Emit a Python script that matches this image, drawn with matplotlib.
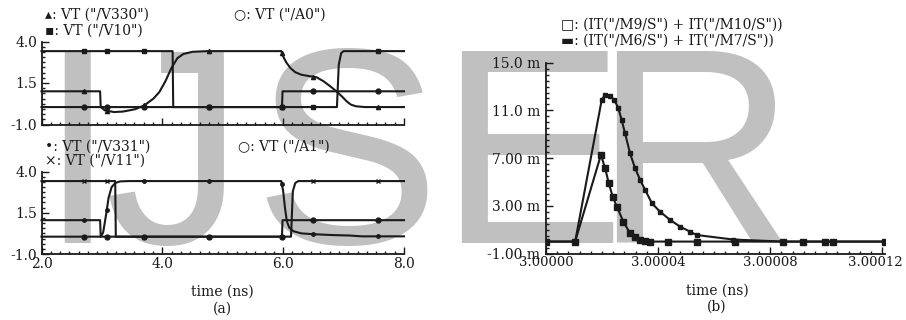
import numpy as np
import matplotlib
matplotlib.use("Agg")
import matplotlib.pyplot as plt
from matplotlib.ticker import FixedLocator, AutoMinorLocator, FixedFormatter
from matplotlib.transforms import ScaledTranslation

# ---------------- panel (a), upper plot: time (ns) / voltage (V) ----------------
t_v330 = [2.0, 2.97, 2.98, 3.05, 3.2, 3.35, 3.55, 3.7, 3.85, 3.95, 4.05, 4.15, 4.25,
          4.35, 4.5, 4.75, 5.97, 6.0, 6.05, 6.12, 6.2, 6.3, 6.42, 6.55, 6.67, 6.78,
          6.88, 6.97, 7.05, 7.12, 7.2, 7.35, 8.0]
v_v330 = [1.0, 1.0, 0.05, -0.15, -0.25, -0.22, -0.08, 0.15, 0.55, 0.95, 1.6, 2.4, 3.0,
          3.25, 3.38, 3.42, 3.42, 3.1, 2.75, 2.4, 2.15, 2.0, 1.92, 1.85, 1.6, 1.3,
          1.0, 0.7, 0.4, 0.2, 0.1, 0.05, 0.05]
t_v10 = [2.0, 4.17, 4.18, 6.89, 6.92, 6.96, 7.0, 8.0]
v_v10 = [3.42, 3.42, 0.05, 0.05, 2.6, 3.3, 3.42, 3.42]
t_a0 = [2.0, 5.98, 5.99, 8.0]
v_a0 = [0.05, 0.05, 1.0, 1.0]

# ---------------- panel (a), lower plot ----------------
t_v331 = [2.0, 2.97, 2.98, 3.02, 3.07, 3.11, 3.16, 3.22, 3.3, 3.45, 5.97, 6.0, 6.03,
          6.06, 6.1, 6.17, 6.3, 6.5, 6.8, 7.1, 7.3, 8.0]
v_v331 = [1.05, 1.05, 0.05, 0.3, 1.4, 2.4, 3.05, 3.3, 3.4, 3.42, 3.42, 2.8, 1.8,
          1.0, 0.6, 0.38, 0.25, 0.2, 0.15, 0.12, 0.07, 0.07]
t_v11 = [2.0, 3.22, 3.23, 6.13, 6.16, 6.2, 6.25, 8.0]
v_v11 = [3.42, 3.42, 0.05, 0.05, 2.8, 3.3, 3.42, 3.42]
t_a1 = [2.0, 5.98, 5.99, 8.0]
v_a1 = [0.05, 0.05, 1.05, 1.05]

# sample instants where the waveform viewer puts its trace symbols
mark_t = [2.7, 3.08, 3.7, 4.77, 5.98, 6.5, 7.57]

# ---------------- panel (b): time offset from 3 ns (x 1e-5 ns) / current (mA) ----------------
dt_m9 = [0.0, 1.04, 1.99, 2.11, 2.29, 2.43, 2.58, 2.70, 2.82, 3.0, 3.18, 3.36, 3.54,
         3.78, 4.07, 4.43, 4.79, 5.14, 5.38, 6.69, 8.46, 9.18, 9.96, 10.25, 12.1]
i_m9 = [0.0, 0.0, 11.9, 12.3, 12.2, 11.9, 11.2, 10.2, 9.1, 7.4, 6.15, 5.17, 4.33,
        3.21, 2.51, 1.81, 1.25, 0.83, 0.55, 0.17, 0.0, 0.0, 0.0, 0.0, 0.0]
dt_m6 = [0.0, 1.04, 1.96, 2.11, 2.24, 2.38, 2.53, 2.76, 3.0, 3.18, 3.36, 3.54, 3.71,
         4.36, 5.39, 6.75, 8.46, 9.18, 9.96, 10.25, 12.1]
i_m6 = [0.0, 0.0, 7.27, 6.15, 4.9, 3.77, 2.93, 1.67, 0.7, 0.35, 0.13, 0.03, 0.0,
        0.0, 0.0, 0.0, 0.0, 0.0, 0.0, 0.0, 0.0]

b_ticks = [3.00000, 3.00004, 3.00008, 3.00012]
b_tick_labels = ["3.00000", "3.00004", "3.00008", "3.00012"]
b_yticks = [15.0, 11.0, 7.0, 3.0, -1.0]
b_ytick_labels = ["15.0 m", "11.0 m", "7.00 m", "3.00 m", "-1.00 m"]
a_yticks = [4.0, 1.5, -1.0]
a_ytick_labels = ["4.0", "1.5", "-1.0"]
a_xticks = [2.0, 4.0, 6.0, 8.0]
a_xtick_labels = ["2.0", "4.0", "6.0", "8.0"]

# background stamp letters and their centres (px)
stamp_letters = ["I", "J", "S", "E", "R"]
stamp_x = [76.5, 174.5, 346.0, 531.5, 693.5]

W, H = 906, 320
INK = "#1a1a1a"
SERIF = ["DejaVu Serif", "DejaVu Sans"]


def fx(px):
    return px / W


def fy(py):
    return 1 - py / H


def axes_px(fig, x0, y_top, x1, y_bot):
    ax = fig.add_axes([fx(x0), fy(y_bot), (x1 - x0) / W, (y_bot - y_top) / H])
    ax.set_facecolor("none")
    for s in ("top", "right"):
        ax.spines[s].set_visible(False)
    for s in ("left", "bottom"):
        ax.spines[s].set_linewidth(1.3)
        ax.spines[s].set_color(INK)
    ax.tick_params(which="both", direction="in", colors=INK, width=1.0,
                   labelsize=10, labelfontfamily="DejaVu Serif")
    ax.tick_params(which="major", length=5)
    ax.tick_params(which="minor", length=2.5)
    return ax


fig = plt.figure(figsize=(W / 100, H / 100), dpi=100)

for ch, cx in zip(stamp_letters, stamp_x):
    fig.text(fx(cx), fy(243), ch, fontsize=201, family="Liberation Sans",
             color="#c0c0c0", ha="center", va="baseline", zorder=-10)


def trace(ax, t, v, marker, ms):
    ax.plot(t, v, color=INK, lw=1.5, zorder=3, clip_on=False)
    ax.plot(mark_t, np.interp(mark_t, t, v), ls="none", marker=marker, ms=ms,
            color=INK, mfc=INK, zorder=4, clip_on=False)


def volt_axes(ax, show_labels):
    ax.set_xlim(2.0, 8.0)
    ax.set_ylim(-1.0, 4.0)
    ax.yaxis.set_major_locator(FixedLocator(a_yticks))
    ax.yaxis.set_major_formatter(FixedFormatter(a_ytick_labels))
    ax.yaxis.set_minor_locator(AutoMinorLocator(8))
    ax.xaxis.set_major_locator(FixedLocator(a_xticks))
    ax.xaxis.set_minor_locator(AutoMinorLocator(13))
    if show_labels:
        ax.xaxis.set_major_formatter(FixedFormatter(a_xtick_labels))
    else:
        ax.tick_params(axis="x", labelbottom=False)
    ax.tick_params(axis="y", pad=3)
    ax.tick_params(axis="x", pad=2)


ax1 = axes_px(fig, 41.5, 41.5, 404, 124.5)
trace(ax1, t_a0, v_a0, "o", 3.5)
trace(ax1, t_v10, v_v10, "s", 3.5)
trace(ax1, t_v330, v_v330, "^", 3.0)
volt_axes(ax1, False)

ax2 = axes_px(fig, 41.5, 171.5, 404, 254)
trace(ax2, t_a1, v_a1, "o", 3.5)
trace(ax2, t_v11, v_v11, "x", 3.5)
trace(ax2, t_v331, v_v331, ".", 5.0)
volt_axes(ax2, True)

# panel (b)
ax3 = axes_px(fig, 546, 62.7, 885, 253.5)
t_m9 = 3.0 + np.array(dt_m9) * 1e-5
t_m6 = 3.0 + np.array(dt_m6) * 1e-5
ax3.plot(t_m9, i_m9, color=INK, lw=1.5, marker="s", ms=2.8, zorder=3)
ax3.plot(t_m6, i_m6, color=INK, lw=1.5, marker="s", ms=3.8, zorder=4)
ax3.set_xlim(3.0, 3.0001210)
ax3.set_ylim(-1.0, 15.0)
ax3.xaxis.set_major_locator(FixedLocator(b_ticks))
ax3.xaxis.set_major_formatter(FixedFormatter(b_tick_labels))
ax3.xaxis.set_minor_locator(AutoMinorLocator(10))
ax3.yaxis.set_major_locator(FixedLocator(b_yticks))
ax3.yaxis.set_major_formatter(FixedFormatter(b_ytick_labels))
ax3.yaxis.set_minor_locator(AutoMinorLocator(8))
ax3.tick_params(axis="y", pad=4)
ax3.tick_params(axis="x", pad=2, labelsize=9.5)
last = ax3.xaxis.get_majorticklabels()[-1]
last.set_transform(last.get_transform() + ScaledTranslation(-5 / 72, 0, fig.dpi_scale_trans))

# trace legends
txt = dict(fontsize=10, family=SERIF, color=INK, va="center", ha="left")
fig.text(fx(45), fy(15), "\u25b4: VT (\"/V330\")", **txt)
fig.text(fx(45), fy(31), "\u25aa: VT (\"/V10\")", **txt)
fig.text(fx(234), fy(15), "\u25cb: VT (\"/A0\")", **txt)
fig.text(fx(45), fy(147), "\u2022: VT (\"/V331\")", **txt)
fig.text(fx(45), fy(161), "\u00d7: VT (\"/V11\")", **txt)
fig.text(fx(238), fy(147), "\u25cb: VT (\"/A1\")", **txt)
fig.text(fx(561), fy(25), "\u25a1: (IT(\"/M9/S\") + IT(\"/M10/S\"))", **txt)
fig.text(fx(561), fy(41), "\u25ac: (IT(\"/M6/S\") + IT(\"/M7/S\"))", **txt)

# axis titles and sub-figure tags
ctr = dict(fontsize=10, family=SERIF, color=INK, va="center", ha="center")
fig.text(fx(222), fy(292), "time (ns)", **ctr)
fig.text(fx(222), fy(309), "(a)", **ctr)
fig.text(fx(717), fy(291), "time (ns)", **ctr)
fig.text(fx(717), fy(307), "(b)", **ctr)

fig.savefig("out.png", dpi=100)
